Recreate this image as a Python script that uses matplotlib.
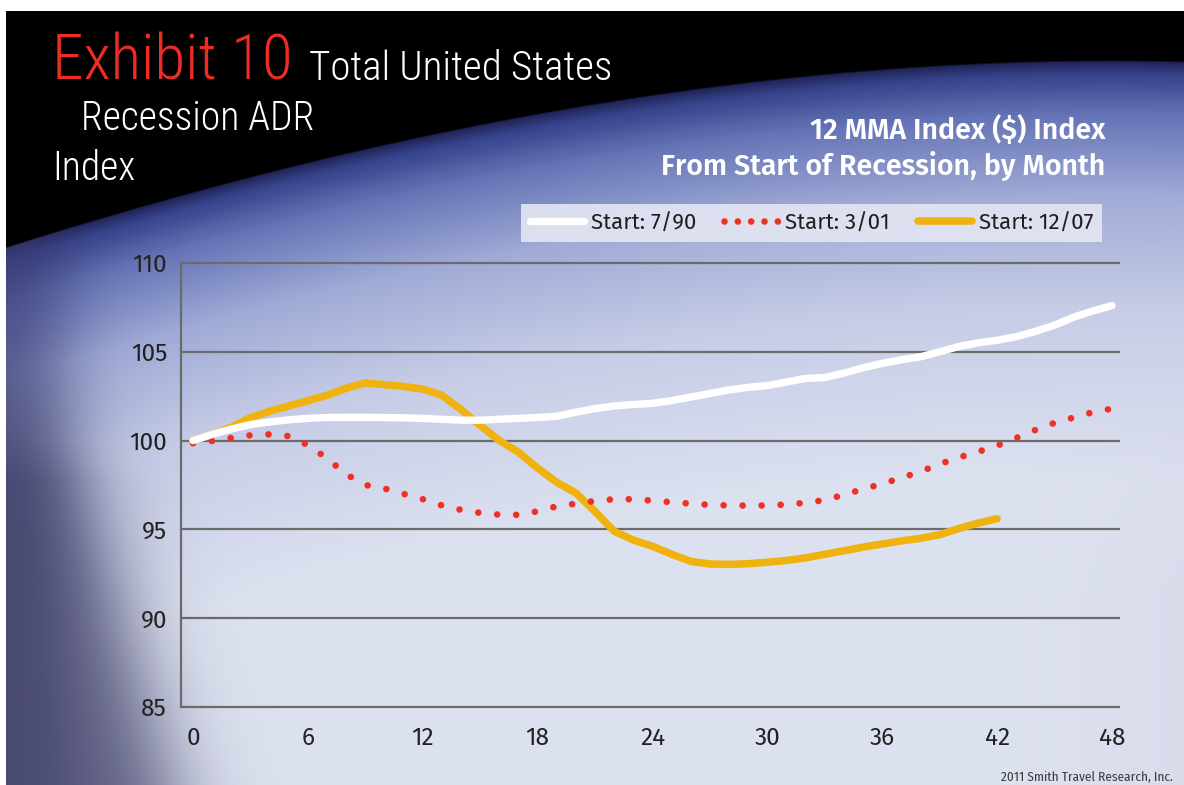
import numpy as np
import matplotlib
matplotlib.use("Agg")
import matplotlib.pyplot as plt
from matplotlib.lines import Line2D
from matplotlib.patches import Rectangle

# ---------------- data ----------------
months = list(range(0, 49))
start_7_90 = [100.0, 100.35, 100.65, 100.9, 101.05, 101.17, 101.25, 101.3, 101.31, 101.31,
              101.3, 101.28, 101.25, 101.2, 101.15, 101.15, 101.2, 101.25, 101.3, 101.37,
              101.6, 101.8, 101.95, 102.03, 102.1, 102.25, 102.45, 102.65, 102.85, 103.0,
              103.1, 103.3, 103.5, 103.55, 103.8, 104.1, 104.35, 104.55, 104.72, 105.0,
              105.3, 105.5, 105.65, 105.85, 106.15, 106.5, 106.95, 107.3, 107.6]
start_3_01 = [99.85, 99.98, 100.15, 100.3, 100.35, 100.25, 99.75, 99.0, 98.1, 97.5,
              97.3, 97.0, 96.7, 96.35, 96.1, 95.93, 95.83, 95.82, 96.02, 96.3,
              96.45, 96.6, 96.7, 96.7, 96.62, 96.53, 96.45, 96.38, 96.35, 96.34,
              96.35, 96.4, 96.5, 96.65, 96.95, 97.27, 97.57, 97.9, 98.26, 98.68,
              99.05, 99.37, 99.72, 100.15, 100.6, 101.0, 101.3, 101.6, 101.8]
months_12_07 = list(range(0, 43))
start_12_07 = [100.0, 100.35, 100.75, 101.3, 101.65, 101.95, 102.25, 102.55, 102.95, 103.25,
               103.15, 103.05, 102.9, 102.55, 101.75, 100.85, 100.0, 99.35, 98.45, 97.65,
               97.05, 96.0, 94.9, 94.4, 94.05, 93.6, 93.2, 93.05, 93.03, 93.07,
               93.15, 93.25, 93.4, 93.6, 93.8, 94.0, 94.18, 94.35, 94.5, 94.7,
               95.05, 95.35, 95.6]
series_labels = ["Start: 7/90", "Start: 3/01", "Start: 12/07"]
yticks = [85, 90, 95, 100, 105, 110]
xticks = [0, 6, 12, 18, 24, 30, 36, 42, 48]

W, H = 1184, 785
fig = plt.figure(figsize=(W / 100, H / 100), dpi=100)

# ---------------- decorative background ----------------
bg = fig.add_axes([0, 0, 1, 1])
bg.set_axis_off()
yy, xx = np.mgrid[0:H, 0:W].astype(float)
bx = np.array([6, 227, 529, 800, 1184.0])
by = np.array([245, 185, 110, 78, 60.0])
coef = np.polyfit(bx, by, 3)
yb = np.polyval(coef, xx)
d = yy - yb

def hx(c):
    c = c.lstrip("#")
    return np.array([int(c[i:i + 2], 16) / 255 for i in (0, 2, 4)])

sd = [0, 14, 55, 135, 245, 420]
sc = [hx(c) for c in ["#1c2050", "#36428a", "#6574b6", "#a0abd6", "#c6cce6", "#dde2f0"]]
img = np.zeros((H, W, 3))
for k in range(3):
    img[..., k] = np.interp(d, sd, [c[k] for c in sc])

def mix(img, w, col):
    return img * (1 - w[..., None]) + hx(col) * w[..., None]

# dark left strip and bottom-left shadow
w1 = 0.7 / (1 + np.exp(-(60 - xx) / 22))
img = mix(img, w1, "#3a3c72")
xe = 55 + 115 * np.clip((yy - 440) / 345, 0, 1) ** 0.8
w2 = 0.8 / (1 + np.exp(-(xe - xx) / 26)) * np.clip((yy - 360) / 120, 0, 1)
img = mix(img, w2, "#3e3e66")
# right side lavender grey
wr = np.clip((xx - 1000) / 200, 0, 1) * np.clip((yy - 300) / 300, 0, 1) * 0.5
img = mix(img, wr, "#d3d5e6")

# black top region and white margins
a = np.clip(d / 2.0, 0, 1)
img = img * a[..., None]
img[:11, :, :] = 1.0
img[:, :6, :] = 1.0
bg.imshow(np.clip(img, 0, 1), extent=(0, W, H, 0), aspect="auto", interpolation="bilinear")
bg.set_xlim(0, W)
bg.set_ylim(H, 0)

def ftxt(x, y, s, **kw):
    fig.text(x / W, 1 - y / H, s, va="baseline", **kw)

light = ["Roboto Condensed", "DejaVu Sans"]
cond = ["Fira Sans Condensed", "DejaVu Sans"]
reg = ["Fira Sans", "DejaVu Sans"]
ftxt(52, 80, "Exhibit 10", color="#ee2b24", fontsize=45.5, family=light, weight=300)
ftxt(309, 80, "Total United States", color="white", fontsize=29.5, family=light, weight=300)
ftxt(81, 130, "Recession ADR", color="white", fontsize=28.5, family=light, weight=300)
ftxt(52, 180, "Index", color="white", fontsize=28.5, family=light, weight=300)
ftxt(1105, 139, "12 MMA Index ($) Index", color="white", fontsize=20.5, weight="semibold",
     family=reg, ha="right")
ftxt(1105, 175, "From Start of Recession, by Month", color="white", fontsize=20.5,
     weight="semibold", family=reg, ha="right")
ftxt(1173, 781, "2011 Smith Travel Research, Inc.", color="#3a3a3a", fontsize=9.5,
     family=cond, ha="right")

# legend box
bg.add_patch(Rectangle((521, 204), 581, 38, facecolor="#e2e5f2", alpha=0.92,
                       edgecolor="none"))

# ---------------- chart ----------------
ax = fig.add_axes([181 / W, 1 - 707 / H, (1120 - 181) / W, (707 - 263) / H])
ax.patch.set_alpha(0)
ax.set_xlim(-0.627, 48.418)
ax.set_ylim(85, 110)
ax.set_yticks(yticks)
ax.set_xticks(xticks)
for s in ["top", "right", "bottom"]:
    ax.spines[s].set_visible(False)
ax.spines["left"].set_color("#6b6b6b")
ax.spines["left"].set_linewidth(1.6)
ax.hlines(yticks, 0, 1, transform=ax.get_yaxis_transform(), colors="#6b6b6b",
          lw=1.6, clip_on=False, zorder=1)
ax.tick_params(length=0, labelsize=17.5, colors="#222222")
ax.tick_params(axis="y", pad=10)
ax.tick_params(axis="x", pad=14)
for lab in ax.get_xticklabels() + ax.get_yticklabels():
    lab.set_family(reg)

gold = "#efb20f"
red = "#ee3124"
dots = (0, (0.001, 2.85))
ax.plot(months_12_07, start_12_07, color=gold, lw=5.4, solid_capstyle="round",
        solid_joinstyle="round", zorder=3)
ax.plot(months, start_3_01, color=red, lw=4.8, linestyle=dots, dash_capstyle="round",
        zorder=4)
ax.plot(months, start_7_90, color="white", lw=5.3, solid_capstyle="round",
        solid_joinstyle="round", zorder=5)

handles = [Line2D([], [], color="white", lw=5.3, solid_capstyle="round"),
           Line2D([], [], color=red, lw=4.8, linestyle=(0, (0.001, 2.0)), dash_capstyle="round"),
           Line2D([], [], color=gold, lw=5.4, solid_capstyle="round")]
leg = fig.legend(handles, series_labels, loc="center",
                 bbox_to_anchor=((521 + 1102) / 2 / W, 1 - 223 / H), ncol=3,
                 frameon=False, handlelength=2.45, columnspacing=1.25,
                 handletextpad=0.3, prop={"family": reg, "size": 16})
for t in leg.get_texts():
    t.set_color("#1e1e1e")

fig.savefig("out.png", dpi=100)
